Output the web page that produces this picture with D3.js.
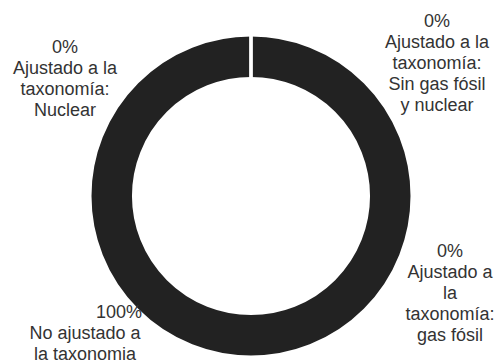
<!DOCTYPE html>
<html>
<head>
<meta charset="utf-8">
<script src="https://cdn.jsdelivr.net/npm/d3@7"></script>
<style>
  body { margin: 0; background: #fff; }
  text { font-family: "Liberation Sans", Arial, sans-serif; font-size: 18px; fill: #333; }
</style>
</head>
<body>
<svg id="chart"></svg>
<script>
// Chart data
var categories = [
  "No ajustado a la taxonomia",
  "Ajustado a la taxonomía: gas fósil",
  "Ajustado a la taxonomía: Sin gas fósil y nuclear",
  "Ajustado a la taxonomía: Nuclear"
];
var values = [100, 0, 0, 0];
var valueLabels = ["100%", "0%", "0%", "0%"];
// text lines after the percentage, as wrapped in the picture
var labelLines = [
  ["No ajustado a", "la taxonomia"],
  ["Ajustado a", "la", "taxonomía:", "gas fósil"],
  ["Ajustado a la", "taxonomía:", "Sin gas fósil", "y nuclear"],
  ["Ajustado a la", "taxonomía:", "Nuclear"]
];

var svg_width = 496, svg_height = 360;
var cx = 251, cy = 196;
var lineH = 21;

// label anchors relative to the centre (layout only)
var labelPos = [
  { x: -166, y: 122, pctX: -109, pctAnchor: "end" },
  { x: 199, y: 61 },
  { x: 186, y: -169 },
  { x: -186, y: -143 }
];

var svg = d3.select("#chart")
  .attr("width", svg_width)
  .attr("height", svg_height);

var g = svg.append("g")
  .attr("transform", "translate(" + cx + "," + cy + ")");

var pie = d3.pie().sort(null).value(function (d) { return d; });
var arc = d3.arc().innerRadius(117.5).outerRadius(161);

g.selectAll("path")
  .data(pie(values))
  .enter().append("path")
  .attr("d", arc)
  .attr("fill", "#222222")
  .attr("stroke", "#fff")
  .attr("stroke-width", 3);

// Labels
var labels = g.selectAll(".label")
  .data(categories)
  .enter().append("text")
  .attr("class", "label")
  .attr("text-anchor", "middle");

labels.each(function (d, i) {
  var t = d3.select(this);
  var p = labelPos[i];
  t.append("tspan")
    .attr("x", p.pctX !== undefined ? p.pctX : p.x)
    .attr("y", p.y)
    .attr("text-anchor", p.pctAnchor || "middle")
    .text(valueLabels[i]);
  labelLines[i].forEach(function (line, j) {
    t.append("tspan")
      .attr("x", p.x)
      .attr("y", p.y + (j + 1) * lineH)
      .text(line);
  });
});
</script>
</body>
</html>
